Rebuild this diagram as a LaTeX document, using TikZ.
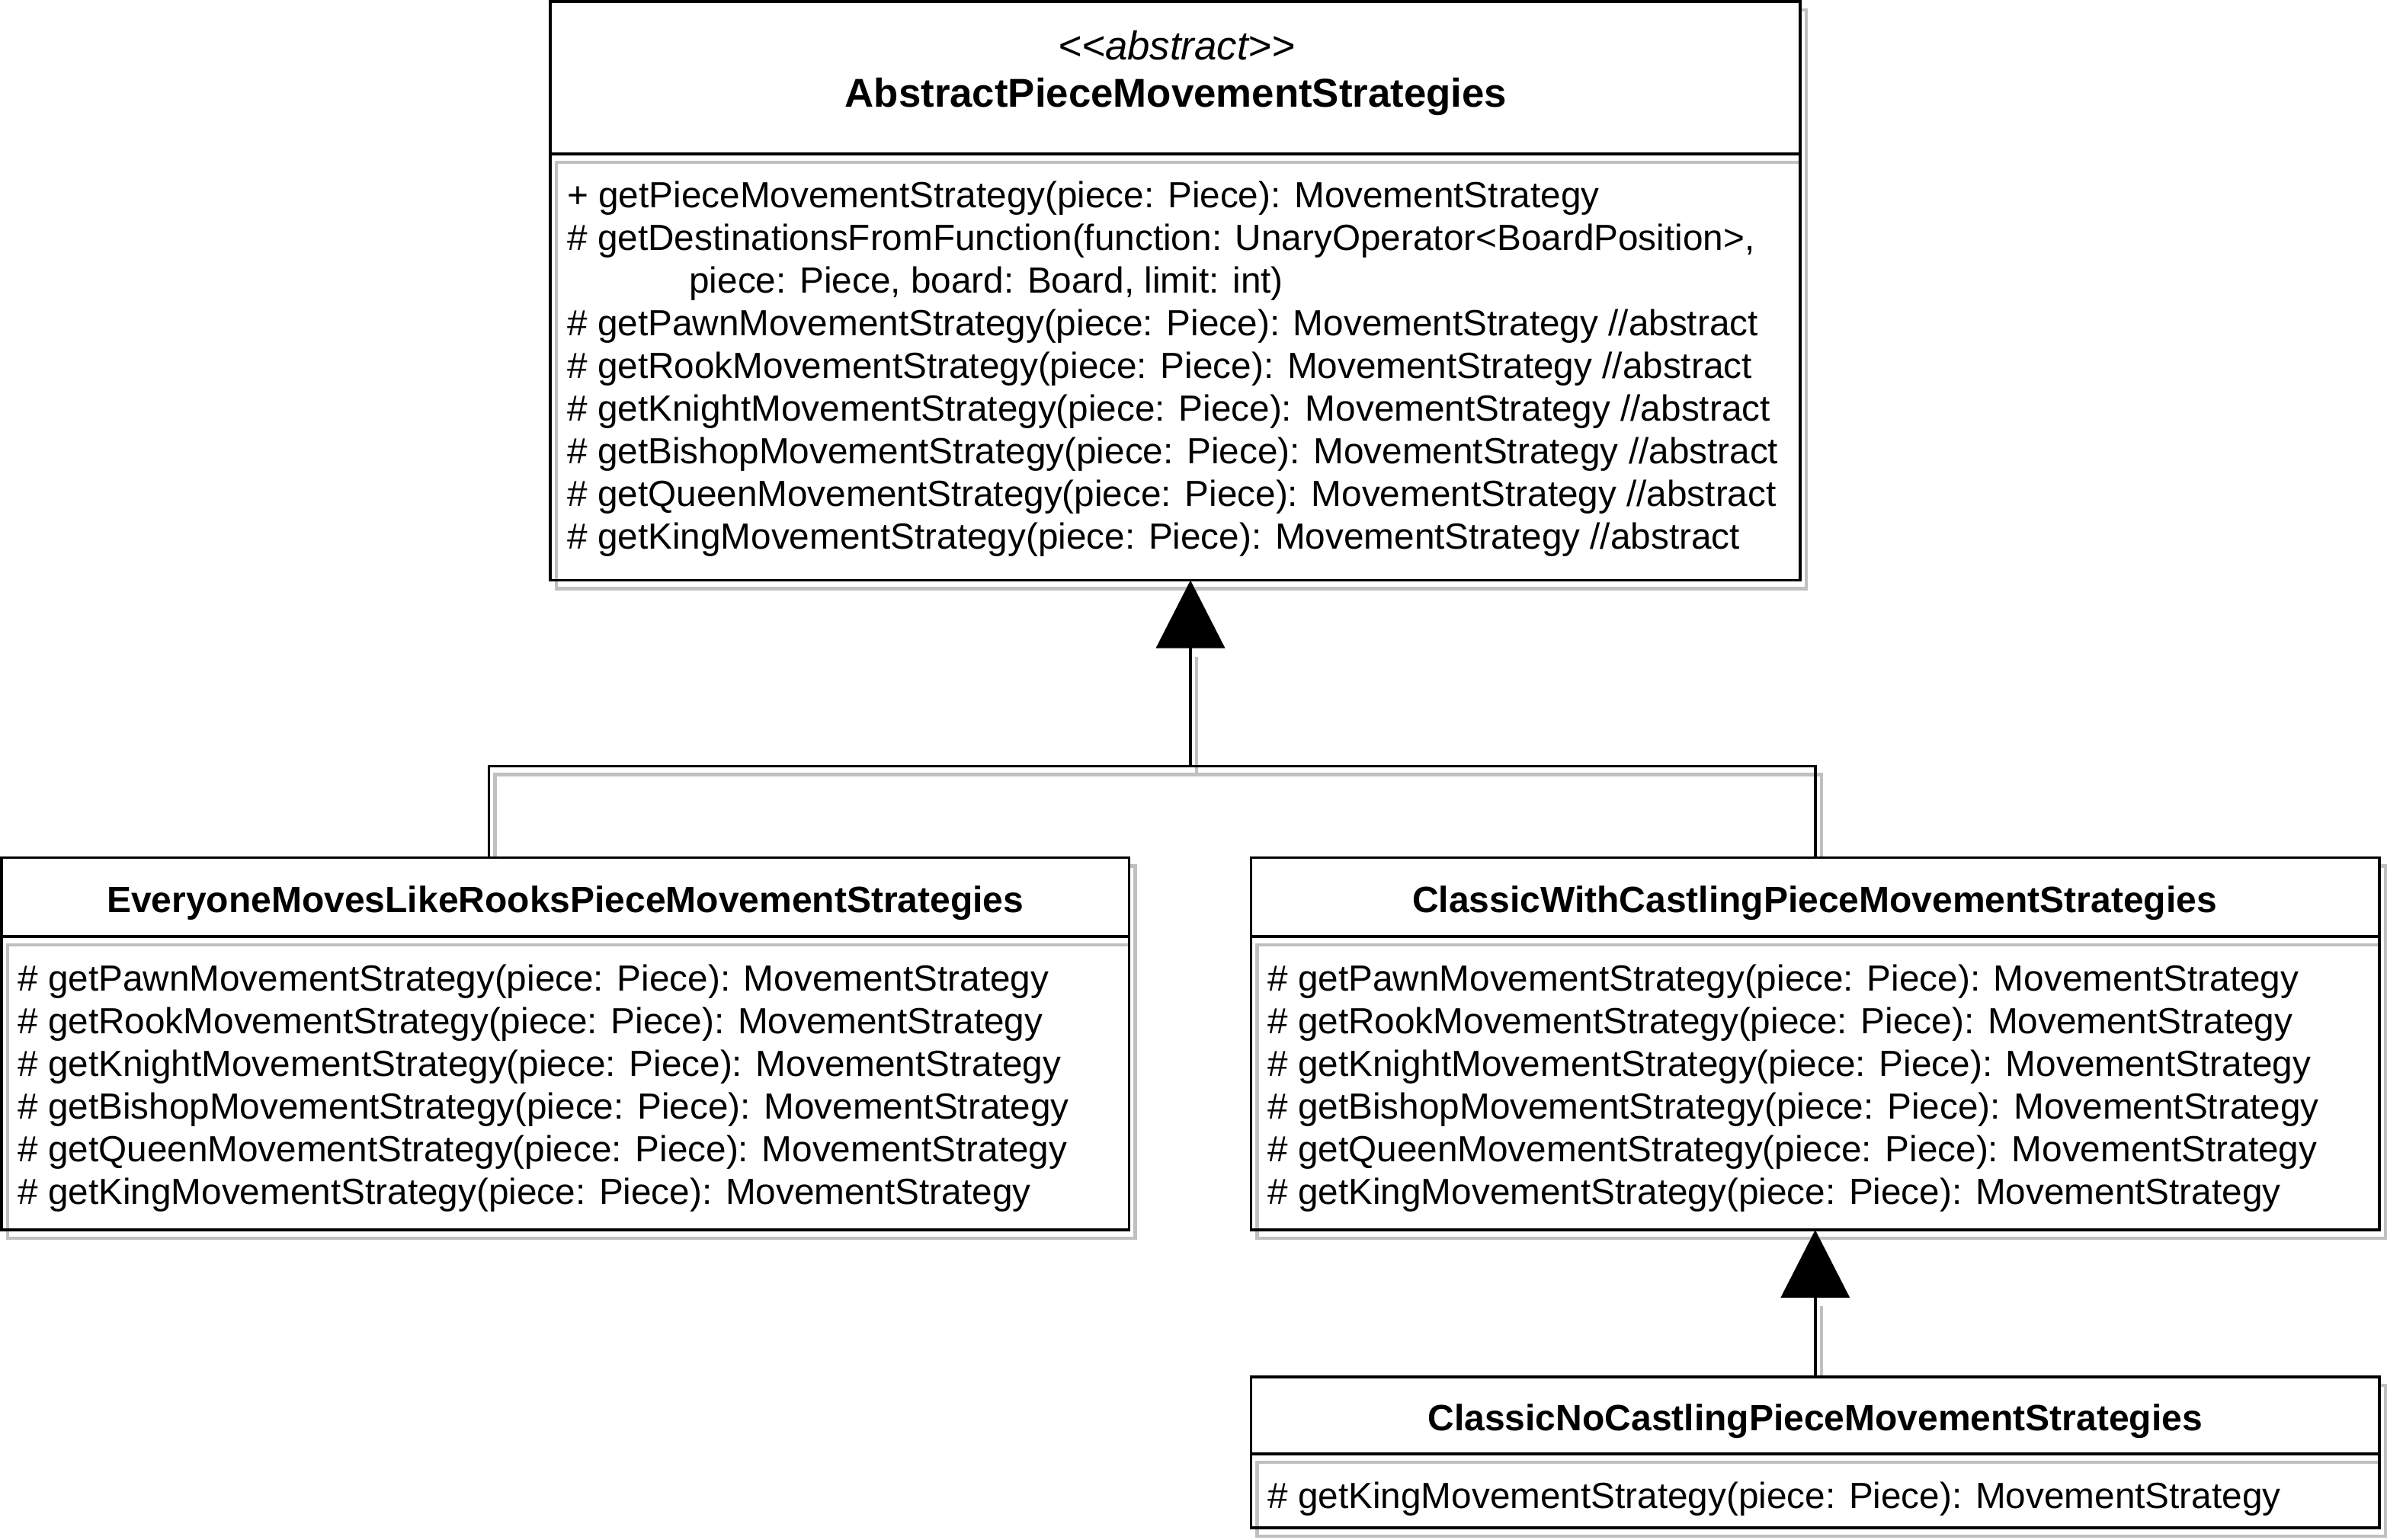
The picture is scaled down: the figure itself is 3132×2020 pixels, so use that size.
\documentclass[tikz,border=0pt]{standalone}
\usepackage{fontspec}
\setmainfont{Liberation Sans}
\usetikzlibrary{arrows.meta,backgrounds}
\tikzset{
  cls/.style={draw=black, fill=white, line width=1.75pt, inner sep=0pt, outer sep=0pt, anchor=north west},
  shad/.style={draw={rgb,255:red,192;green,192;blue,192}, line width=2.25pt},
  conn/.style={draw=black, line width=1.75pt},
  gen/.style={conn, -{Triangle[length=44.5pt,width=45pt]}},
  mtxt/.style={inner sep=0pt, anchor=base west, font=\fontsize{23.85}{28}\selectfont},
  ttl/.style={inner sep=0pt, anchor=base, font=\fontsize{24}{28}\selectfont\bfseries},
  bigttl/.style={inner sep=0pt, anchor=base, font=\fontsize{26.4}{30}\selectfont\bfseries},
  stereo/.style={inner sep=0pt, anchor=base, font=\fontsize{26.4}{30}\selectfont\itshape},
}
\begin{document}
\begin{tikzpicture}[x=0.5pt,y=-0.5pt]
\useasboundingbox (0,0) rectangle (3132,2020);

% class boxes
\node[cls, minimum width=820pt, minimum height=100pt] (absH) at (722,2) {};
\node[cls, minimum width=820pt, minimum height=279.75pt] (absB) at (722,202) {};
\node[cls, minimum width=739.75pt, minimum height=51.75pt] (leftH) at (2,1125.5) {};
\node[cls, minimum width=739.75pt, minimum height=192.5pt] (leftB) at (2,1229) {};
\node[cls, minimum width=740.25pt, minimum height=51.75pt] (rightH) at (1641.5,1125.5) {};
\node[cls, minimum width=740.25pt, minimum height=192.5pt] (rightB) at (1641.5,1229) {};
\node[cls, minimum width=740.25pt, minimum height=50.5pt] (botH) at (1641.5,1807) {};
\node[cls, minimum width=740.25pt, minimum height=48.5pt] (botB) at (1641.5,1908) {};

% compartment shadows (inside boxes)
\foreach \b in {absB,leftB,rightB,botB}{
  \draw[shad] ([shift={(-2,11)}]\b.north east) -- ([shift={(8,11)}]\b.north west) -- ([shift={(8,-2)}]\b.south west);
}

% connector helper coordinates
\coordinate (lx) at (641.5,0);
\coordinate (j) at (1562,1005.5);
\coordinate (lt) at (lx |- leftH.north);

% outer shadows and connector shadows
\begin{scope}[on background layer]
  \draw[shad] ([shift={(8,11)}]absH.north west) rectangle ([shift={(8,11)}]absB.south east);
  \draw[shad] ([shift={(8,11)}]leftH.north west) rectangle ([shift={(8,11)}]leftB.south east);
  \draw[shad] ([shift={(8,11)}]rightH.north west) rectangle ([shift={(8,11)}]rightB.south east);
  \draw[shad] ([shift={(8,11)}]botH.north west) rectangle ([shift={(8,11)}]botB.south east);
  \draw[shad] ([shift={(8,11)}]lt) |- ([shift={(8,11)}]j) -| ([shift={(8,11)}]rightH.north);
  \draw[shad] ([shift={(8,11)}]j) -- ++(0,-154.5);
  \draw[shad] ([shift={(8,11)}]botH.north) -- ++(0,-104);
\end{scope}

% connectors
\draw[conn] (lt) |- (j) -| (rightH.north);
\draw[gen] (j) -- (j |- absB.south);
\draw[gen] (botH.north) -- (rightB.south);

% texts: abstract class
\node[stereo] (absS) at (1544,78) {\hbox{<}\hbox{<}abstract\hbox{>}\hbox{>}};
\node[bigttl] (absT) at (1543,140) {AbstractPieceMovementStrategies};
\node[mtxt] (a1) at (744,272) {+ getPieceMovementStrategy(piece: Piece): MovementStrategy};
\node[mtxt] (a2) at (744,328) {\# getDestinationsFromFunction(function: UnaryOperator<BoardPosition>,};
\node[mtxt] (a3) at (904,384) {piece: Piece, board: Board, limit: int)};
\node[mtxt] (a4) at (744,440) {\# getPawnMovementStrategy(piece: Piece): MovementStrategy //abstract};
\node[mtxt] (a5) at (744,496) {\# getRookMovementStrategy(piece: Piece): MovementStrategy //abstract};
\node[mtxt] (a6) at (744,552) {\# getKnightMovementStrategy(piece: Piece): MovementStrategy //abstract};
\node[mtxt] (a7) at (744,608) {\# getBishopMovementStrategy(piece: Piece): MovementStrategy //abstract};
\node[mtxt] (a8) at (744,664) {\# getQueenMovementStrategy(piece: Piece): MovementStrategy //abstract};
\node[mtxt] (a9) at (744,720) {\# getKingMovementStrategy(piece: Piece): MovementStrategy //abstract};

% left class
\node[ttl] (lT) at (741.75,1197) {EveryoneMovesLikeRooksPieceMovementStrategies};
\node[mtxt] (l1) at (23,1300) {\# getPawnMovementStrategy(piece: Piece): MovementStrategy};
\node[mtxt] (l2) at (23,1356) {\# getRookMovementStrategy(piece: Piece): MovementStrategy};
\node[mtxt] (l3) at (23,1412) {\# getKnightMovementStrategy(piece: Piece): MovementStrategy};
\node[mtxt] (l4) at (23,1468) {\# getBishopMovementStrategy(piece: Piece): MovementStrategy};
\node[mtxt] (l5) at (23,1524) {\# getQueenMovementStrategy(piece: Piece): MovementStrategy};
\node[mtxt] (l6) at (23,1580) {\# getKingMovementStrategy(piece: Piece): MovementStrategy};

% right class
\node[ttl] (rT) at (2381,1197) {ClassicWithCastlingPieceMovementStrategies};
\node[mtxt] (r1) at (1663,1300) {\# getPawnMovementStrategy(piece: Piece): MovementStrategy};
\node[mtxt] (r2) at (1663,1356) {\# getRookMovementStrategy(piece: Piece): MovementStrategy};
\node[mtxt] (r3) at (1663,1412) {\# getKnightMovementStrategy(piece: Piece): MovementStrategy};
\node[mtxt] (r4) at (1663,1468) {\# getBishopMovementStrategy(piece: Piece): MovementStrategy};
\node[mtxt] (r5) at (1663,1524) {\# getQueenMovementStrategy(piece: Piece): MovementStrategy};
\node[mtxt] (r6) at (1663,1580) {\# getKingMovementStrategy(piece: Piece): MovementStrategy};

% bottom class
\node[ttl] (bT) at (2381.75,1877) {ClassicNoCastlingPieceMovementStrategies};
\node[mtxt] (b1) at (1663,1979) {\# getKingMovementStrategy(piece: Piece): MovementStrategy};
\end{tikzpicture}
\end{document}
